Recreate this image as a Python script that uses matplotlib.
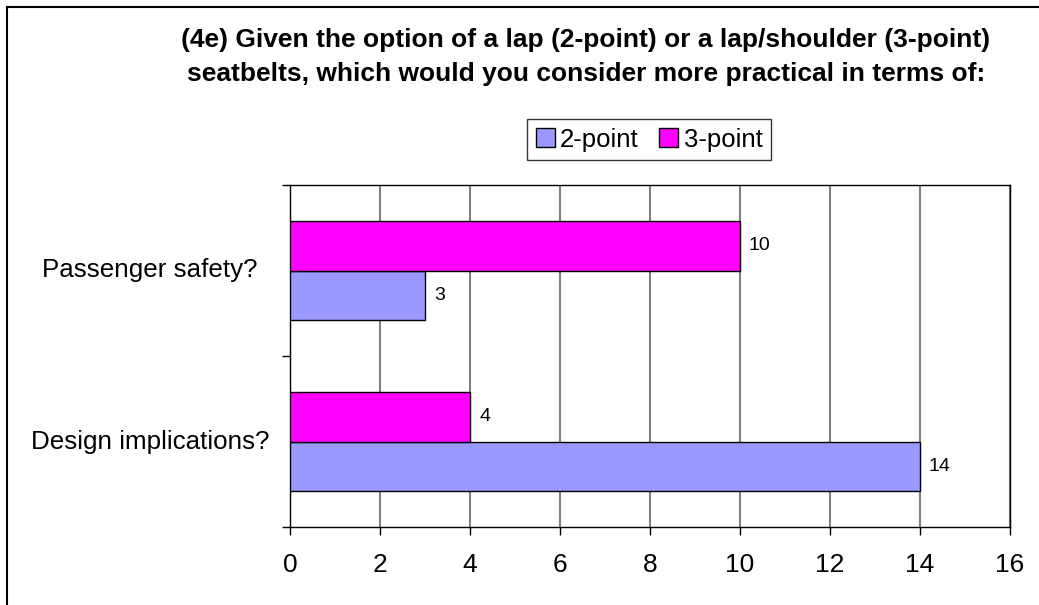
import matplotlib
matplotlib.use("Agg")
import matplotlib.pyplot as plt
import matplotlib.transforms as mtransforms
from matplotlib.lines import Line2D
from matplotlib.patches import Patch

categories = ["Design implications?", "Passenger safety?"]
series_names = ["2-point", "3-point"]
two_point = [14, 3]
three_point = [4, 10]
x_ticks = [0, 2, 4, 6, 8, 10, 12, 14, 16]
title = ("(4e) Given the option of a lap (2-point) or a lap/shoulder (3-point)\n"
         "seatbelts, which would you consider more practical in terms of:")

c2 = "#9999FF"
c3 = "#FF00FF"

plt.rcParams['font.family'] = ['Liberation Sans', 'DejaVu Sans']

W, H = 1039, 605
fig = plt.figure(figsize=(W / 100, H / 100), dpi=100)
fig.patch.set_facecolor("white")

# figure border (left and top visible)
fig.add_artist(Line2D([7 / W, 7 / W], [0, 1 - 7 / H], transform=fig.transFigure,
                      color="black", lw=1.5))
fig.add_artist(Line2D([7 / W, 1], [1 - 7 / H, 1 - 7 / H], transform=fig.transFigure,
                      color="black", lw=1.5))

ax = fig.add_axes([290 / W, 78 / H, 720 / W, 342 / H])

h = 0.287
ypos = list(range(len(categories)))
ax.barh([y - h / 2 for y in ypos], two_point, height=h, color=c2,
        edgecolor="black", linewidth=1, zorder=3)
ax.barh([y + h / 2 for y in ypos], three_point, height=h, color=c3,
        edgecolor="black", linewidth=1, zorder=3)

for y, v in zip(ypos, two_point):
    ax.text(v + 0.2, y - h / 2, str(v), va="center", ha="left", fontsize=14)
for y, v in zip(ypos, three_point):
    ax.text(v + 0.2, y + h / 2, str(v), va="center", ha="left", fontsize=14)

ax.set_xlim(0, 16)
ax.set_ylim(-0.5, len(categories) - 0.5)
ax.set_xticks(x_ticks)
ax.set_xticklabels([str(t) for t in x_ticks], fontsize=19)
ax.tick_params(axis="x", length=6, width=1, pad=13, direction="out")
ax.xaxis.grid(True, color="#808080", lw=1.5, zorder=1)

ax.set_yticks([-0.5 + i for i in range(len(categories) + 1)])
ax.set_yticklabels([])
ax.tick_params(axis="y", length=6, width=1, direction="out")

lab_tr = mtransforms.blended_transform_factory(fig.transFigure, ax.transData)
for y, lab in zip(ypos, categories):
    ax.text(150 / W, y, lab, transform=lab_tr, ha="center", va="center", fontsize=18.7)

for s in ax.spines.values():
    s.set_color("black")
    s.set_linewidth(1)

fig.text(586 / W, 1 - 57 / H, title, ha="center", va="center", fontsize=19,
         fontweight="bold", linespacing=1.55)

handles = [Patch(facecolor=c2, edgecolor="black"), Patch(facecolor=c3, edgecolor="black")]
leg = fig.legend(handles, series_names, loc="center", bbox_to_anchor=(649 / W, 1 - 139.5 / H),
                 ncol=2, fontsize=18.5, frameon=True, fancybox=False, edgecolor="black",
                 handlelength=0.75, handleheight=0.75, handletextpad=0.2, columnspacing=0.8,
                 borderpad=0.35, borderaxespad=0)
leg.get_frame().set_linewidth(1)

fig.savefig("out.png", dpi=100)
